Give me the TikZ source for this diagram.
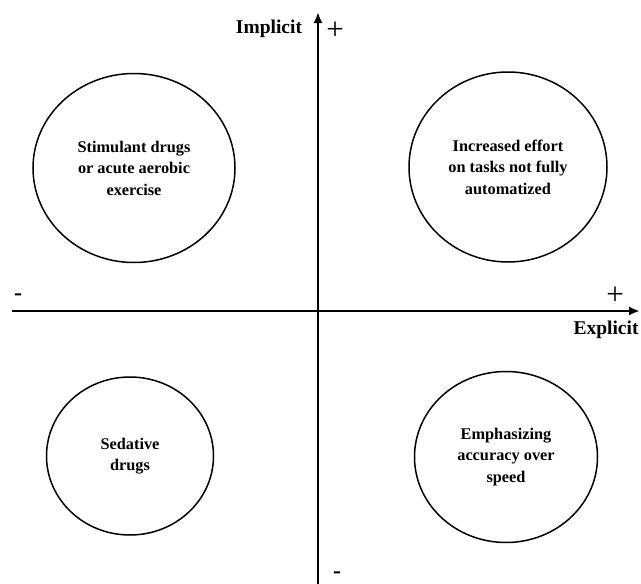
\documentclass[tikz,border=0pt]{standalone}
\usepackage{fontspec}
\setmainfont{Liberation Serif}
\usetikzlibrary{shapes.geometric,arrows.meta}
\tikzset{
  x=1pt, y=-1pt,
  quad/.style={draw, line width=1.5pt, ellipse, inner sep=0pt, align=center,
    font=\bfseries\fontsize{16.3}{21.5}\selectfont},
  axis/.style={line width=2.4pt, -{Latex[length=11pt,width=9pt]}},
  axlabel/.style={font=\bfseries\fontsize{19.5}{22}\selectfont, inner sep=0pt},
  sign/.style={font=\fontsize{31}{31}\selectfont, inner sep=0pt},
  minus/.style={font=\bfseries\fontsize{24}{24}\selectfont, inner sep=0pt}
}
\begin{document}
\begin{tikzpicture}
\useasboundingbox (0,0) rectangle (641,584);
% axes
\coordinate (xl) at (12,311);
\coordinate (xr) at (640,311);
\coordinate (yb) at (318,590);
\coordinate (yt) at (318,12);
\draw[axis] (xl) -- (xr);
\draw[axis] (yb) -- (yt);
% axis labels
\node[axlabel] (impl) at (269,29) {Implicit};
\node[sign] (ptop) at (335,31) {+};
\node[minus] (mleft) at (18,297) {-};
\node[sign] (pright) at (615,296) {+};
\node[axlabel] (expl) at (606,330) {Explicit};
\node[minus] (mbot) at (337,575) {-};
% quadrant ellipses
\node[quad, minimum width=202pt, minimum height=189pt] (tl) at (134,168)
  {Stimulant drugs\\or acute aerobic\\exercise};
\node[quad, minimum width=198pt, minimum height=190pt] (tr) at (508,167)
  {Increased effort\\on tasks not fully\\automatized};
\node[quad, minimum width=167pt, minimum height=158pt] (bl) at (130,456)
  {Sedative\\drugs};
\node[quad, minimum width=183pt, minimum height=171pt] (br) at (506,457)
  {Emphasizing\\accuracy over\\speed};
\end{tikzpicture}
\end{document}
